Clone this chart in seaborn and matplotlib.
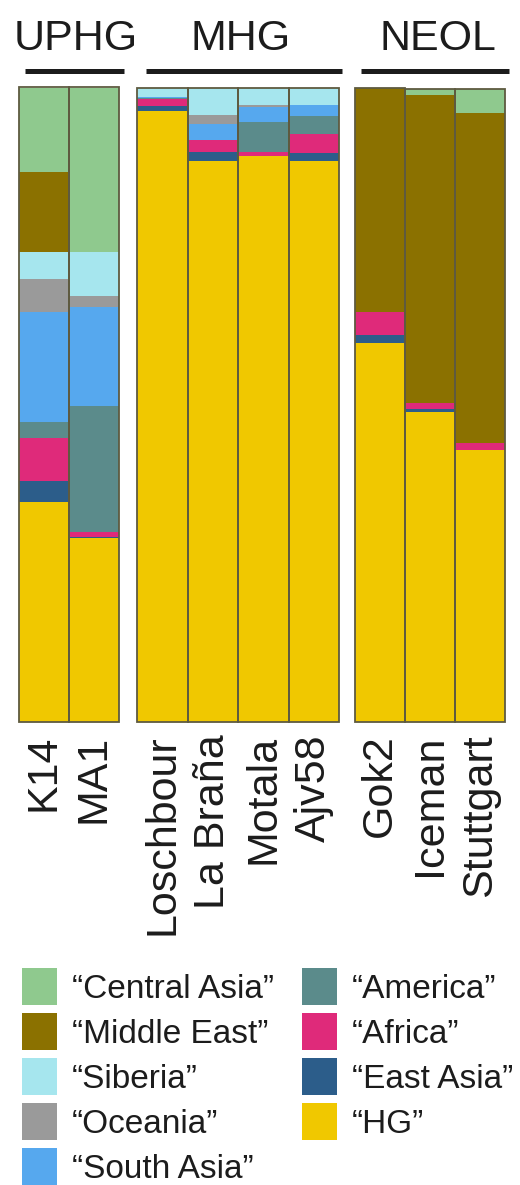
import numpy as np
import pandas as pd
import matplotlib
matplotlib.use("Agg")
import matplotlib.pyplot as plt
import seaborn as sns
from matplotlib.patches import Patch
from matplotlib.lines import Line2D

# ---------------- data ----------------
groups = ["UPHG", "MHG", "NEOL"]
samples = ["K14", "MA1", "Loschbour", "La Braña", "Motala", "Ajv58", "Gok2", "Iceman", "Stuttgart"]
sample_group = ["UPHG", "UPHG", "MHG", "MHG", "MHG", "MHG", "NEOL", "NEOL", "NEOL"]

# components, bottom -> top
components = ["HG", "East Asia", "Africa", "America", "South Asia", "Oceania", "Siberia", "Middle East", "Central Asia"]
hg           = [0.347, 0.290, 0.964, 0.885, 0.893, 0.885, 0.598, 0.489, 0.429]
east_asia    = [0.033, 0.002, 0.008, 0.014, 0.000, 0.013, 0.013, 0.004, 0.000]
africa       = [0.068, 0.008, 0.010, 0.019, 0.006, 0.030, 0.035, 0.010, 0.011]
america      = [0.025, 0.199, 0.002, 0.000, 0.047, 0.028, 0.000, 0.000, 0.000]
south_asia   = [0.174, 0.156, 0.002, 0.025, 0.024, 0.017, 0.000, 0.000, 0.000]
oceania      = [0.052, 0.017, 0.000, 0.014, 0.003, 0.000, 0.000, 0.000, 0.000]
siberia      = [0.043, 0.069, 0.014, 0.043, 0.027, 0.027, 0.000, 0.000, 0.000]
middle_east  = [0.125, 0.000, 0.000, 0.000, 0.000, 0.000, 0.354, 0.486, 0.521]
central_asia = [0.134, 0.260, 0.000, 0.000, 0.000, 0.000, 0.000, 0.010, 0.038]

legend_order = ["Central Asia", "Middle East", "Siberia", "Oceania", "South Asia",
                "America", "Africa", "East Asia", "HG"]

colors = {
    "Central Asia": "#8fc98e",
    "Middle East": "#8b7100",
    "Siberia": "#a6e6ee",
    "Oceania": "#9a9a9a",
    "South Asia": "#56a8ee",
    "America": "#5b8b8b",
    "Africa": "#df2a7a",
    "East Asia": "#2c5d8a",
    "HG": "#f0c800",
}

# ---------------- build table ----------------
vals = [hg, east_asia, africa, america, south_asia, oceania, siberia, middle_east, central_asia]
df = pd.DataFrame({"sample": samples, "group": sample_group})
cum = np.zeros(len(samples))
for name, v in zip(components, vals):
    df[name] = v
    cum = cum + np.array(v)
    df["cum_" + name] = cum
df["total"] = cum

# ---------------- figure ----------------
sns.set_theme(style="white")
plt.rcParams["font.family"] = ["Liberation Sans", "DejaVu Sans"]

W, H = 520, 1185
fig = plt.figure(figsize=(W / 100, H / 100), dpi=100)

ax_px = {"UPHG": (19, 88, 100, 634), "MHG": (137, 88, 202, 634), "NEOL": (355, 88, 150, 634)}
title_px = {"UPHG": 76, "MHG": 241, "NEOL": 438}
line_px = {"UPHG": (25, 124), "MHG": (146, 342), "NEOL": (361, 509)}

text_color = "#1c1c1c"
edge_color = "#5e5a40"

for g in groups:
    x0, y0, w, h = ax_px[g]
    ax = fig.add_axes([x0 / W, 1 - (y0 + h) / H, w / W, h / H])
    sub = df[df["group"] == g]
    order = list(sub["sample"])
    for name in reversed(components):
        sns.barplot(data=sub, x="sample", y="cum_" + name, order=order, color=colors[name],
                    saturation=1, width=1.0, linewidth=0, errorbar=None, ax=ax)
    sns.barplot(data=sub, x="sample", y="total", order=order, color=edge_color, fill=False,
                width=1.0, linewidth=1.3, errorbar=None, ax=ax, clip_on=False)
    ax.set_ylim(0, 1)
    ax.set_xlim(-0.5, len(order) - 0.5)
    ax.set_yticks([])
    ax.set_xlabel("")
    ax.set_ylabel("")
    for s in ax.spines.values():
        s.set_visible(False)
    ax.tick_params(axis="x", length=0, pad=9, labelsize=31, labelrotation=90, labelcolor=text_color)

    fig.text(title_px[g] / W, 1 - 50 / H, g, ha="center", va="baseline", fontsize=31, color=text_color)
    lx0, lx1 = line_px[g]
    fig.add_artist(Line2D([lx0 / W, lx1 / W], [1 - 71 / H, 1 - 71 / H], lw=3.6,
                          color=text_color, solid_capstyle="butt"))

handles = [Patch(facecolor=colors[c], edgecolor="none") for c in legend_order]
labels = ["\u201c" + c + "\u201d" for c in legend_order]
fig.legend(handles, labels, ncol=2, loc="upper left", bbox_to_anchor=(22 / W, 1 - 968 / H),
           frameon=False, fontsize=24, handlelength=1.05, handleheight=1.33, handletextpad=0.45,
           columnspacing=0.84, labelspacing=0.24, borderpad=0, borderaxespad=0,
           labelcolor=text_color)

fig.savefig("out.png", dpi=100)
